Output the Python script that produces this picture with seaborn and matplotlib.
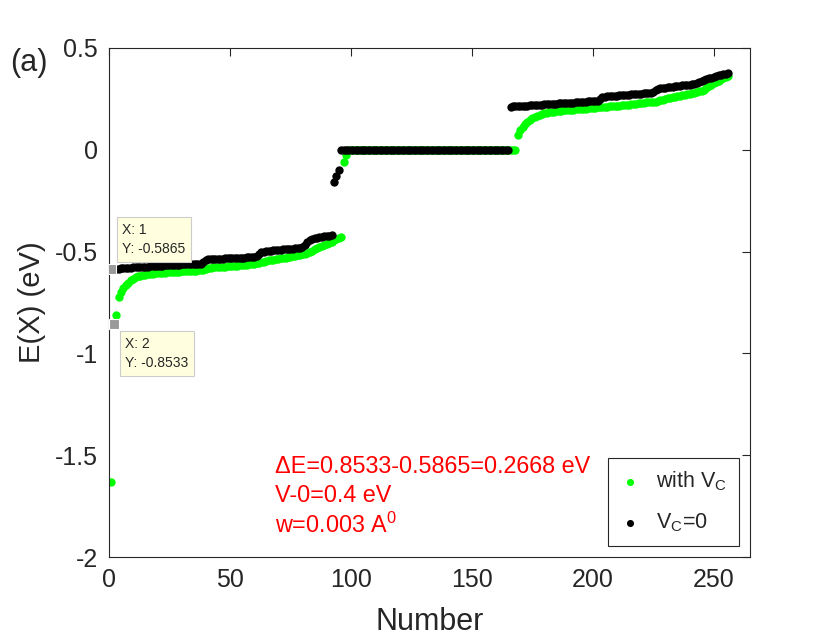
import numpy as np
import pandas as pd
import matplotlib
matplotlib.use("Agg")
import matplotlib.pyplot as plt
import seaborn as sns

# sorted energies, green = with V_C, black = V_C = 0
green_low = [
    -1.630, -0.853, -0.810, -0.722, -0.700, -0.680, -0.665, -0.652, -0.641, -0.633,
    -0.627, -0.622, -0.618, -0.615, -0.613, -0.611, -0.609, -0.608, -0.607, -0.606,
    -0.605, -0.604, -0.603, -0.602, -0.601, -0.600, -0.599, -0.598, -0.598, -0.597,
    -0.596, -0.596, -0.595, -0.594, -0.594, -0.593, -0.592, -0.592, -0.588, -0.583,
    -0.580, -0.579, -0.578, -0.578, -0.577, -0.576, -0.575, -0.574, -0.573, -0.572,
    -0.571, -0.570, -0.569, -0.568, -0.567, -0.566, -0.565, -0.563, -0.561, -0.559,
    -0.557, -0.555, -0.552, -0.549, -0.546, -0.543, -0.541, -0.539, -0.537, -0.535,
    -0.533, -0.531, -0.529, -0.527, -0.525, -0.523, -0.520, -0.518, -0.516, -0.514,
    -0.511, -0.507, -0.501, -0.495, -0.489, -0.483, -0.477, -0.471, -0.466, -0.461,
    -0.456, -0.451, -0.445, -0.439, -0.433, -0.426,
]
green_jump = [-0.059, -0.026]
green_zero = [0.0] * 70
green_high = [
    0.074, 0.098, 0.112, 0.125, 0.137, 0.147, 0.155, 0.162, 0.168, 0.173,
    0.177, 0.180, 0.183, 0.185, 0.187, 0.188, 0.190, 0.191, 0.192, 0.193,
    0.194, 0.195, 0.196, 0.197, 0.198, 0.199, 0.200, 0.201, 0.202, 0.203,
    0.204, 0.205, 0.206, 0.208, 0.209, 0.210, 0.211, 0.212, 0.213, 0.214,
    0.215, 0.216, 0.217, 0.218, 0.219, 0.220, 0.221, 0.223, 0.225, 0.227,
    0.229, 0.231, 0.232, 0.233, 0.234, 0.235, 0.236, 0.237, 0.240, 0.243,
    0.246, 0.249, 0.252, 0.255, 0.258, 0.261, 0.264, 0.266, 0.268, 0.270,
    0.272, 0.275, 0.278, 0.281, 0.284, 0.287, 0.290, 0.296, 0.304, 0.312,
    0.320, 0.327, 0.334, 0.340, 0.346, 0.351, 0.356, 0.360,
]

black_low = [
    -0.5865, -0.585, -0.584, -0.583, -0.582, -0.581, -0.580, -0.580, -0.579, -0.578,
    -0.577, -0.577, -0.576, -0.575, -0.574, -0.574, -0.573, -0.572, -0.571, -0.571,
    -0.570, -0.569, -0.568, -0.568, -0.567, -0.566, -0.565, -0.565, -0.564, -0.563,
    -0.563, -0.562, -0.562, -0.561, -0.561, -0.560, -0.560, -0.559, -0.550, -0.540,
    -0.537, -0.536, -0.536, -0.535, -0.535, -0.534, -0.534, -0.533, -0.533, -0.532,
    -0.532, -0.531, -0.531, -0.530, -0.530, -0.529, -0.528, -0.527, -0.526, -0.525,
    -0.522, -0.512, -0.503, -0.501, -0.499, -0.497, -0.495, -0.494, -0.492, -0.491,
    -0.490, -0.489, -0.488, -0.487, -0.486, -0.485, -0.484, -0.482, -0.480, -0.477,
    -0.468, -0.452, -0.442, -0.438, -0.435, -0.432, -0.429, -0.427, -0.425, -0.423,
    -0.421, -0.419,
]
black_jump = [-0.160, -0.130, -0.098]
black_zero = [0.0] * 70
black_high = [
    0.212, 0.213, 0.214, 0.214, 0.215, 0.216, 0.217, 0.217, 0.218, 0.219,
    0.220, 0.221, 0.221, 0.222, 0.223, 0.224, 0.224, 0.225, 0.226, 0.227,
    0.228, 0.228, 0.229, 0.230, 0.231, 0.232, 0.232, 0.233, 0.234, 0.235,
    0.236, 0.237, 0.238, 0.239, 0.240, 0.241, 0.242, 0.250, 0.258, 0.261,
    0.262, 0.263, 0.264, 0.265, 0.266, 0.267, 0.268, 0.269, 0.270, 0.271,
    0.272, 0.273, 0.274, 0.275, 0.276, 0.277, 0.278, 0.280, 0.281, 0.283,
    0.292, 0.300, 0.302, 0.304, 0.305, 0.307, 0.308, 0.310, 0.311, 0.313,
    0.314, 0.316, 0.317, 0.319, 0.320, 0.322, 0.324, 0.327, 0.331, 0.336,
    0.341, 0.346, 0.351, 0.355, 0.359, 0.363, 0.366, 0.369, 0.372, 0.374,
    0.376,
]

# data tips shown on the figure
tip_x = [1, 2]
tip_y = [-0.5865, -0.8533]

xticks = [0, 50, 100, 150, 200, 250]
yticks = [-2, -1.5, -1, -0.5, 0, 0.5]
ytick_labels = ["-2", "-1.5", "-1", "-0.5", "0", "0.5"]

notes = ["\u0394E=0.8533-0.5865=0.2668 eV", "V-0=0.4 eV", "w=0.003 A$^0$"]

green_y = green_low + green_jump + green_zero + green_high
black_y = black_low + black_jump + black_zero + black_high
green = pd.DataFrame({"Number": np.arange(1, len(green_y) + 1), "E": green_y})
black = pd.DataFrame({"Number": np.arange(1, len(black_y) + 1), "E": black_y})

sns.set_style("white")
plt.rcParams["font.family"] = ["Liberation Sans", "DejaVu Sans"]
plt.rcParams["mathtext.default"] = "regular"
plt.rcParams["axes.unicode_minus"] = False

axis_col = "#262626"
fig = plt.figure(figsize=(8.3, 6.44), dpi=100)
ax = fig.add_axes([0.1313, 0.135, 0.7723, 0.7905])

sns.scatterplot(data=green, x="Number", y="E", color="#00ff00", s=36, linewidth=0,
                label="with V$_C$", ax=ax)
sns.scatterplot(data=black, x="Number", y="E", color="black", s=36, linewidth=0,
                label="V$_C$=0", ax=ax)

ax.set_xlim(0, 265)
ax.set_ylim(-2, 0.5)
ax.set_xticks(xticks)
ax.set_yticks(yticks)
ax.set_yticklabels(ytick_labels)
ax.tick_params(direction="in", top=True, right=True, length=6, width=0.8,
               colors=axis_col, labelsize=18, pad=8)
for sp in ax.spines.values():
    sp.set_color(axis_col)
    sp.set_linewidth(0.8)

ax.set_xlabel("Number", fontsize=22, color=axis_col)
ax.xaxis.set_label_coords(0.5, -0.098)
ax.set_ylabel("E(X) (eV)", fontsize=21, color=axis_col)
ax.yaxis.set_label_coords(-0.099, 0.5)

# data tips
ax.plot(tip_x, tip_y, "s", color="#999999", markersize=7, markeredgecolor="white",
        markeredgewidth=0.8, zorder=5)
ax.text(5.5, -0.44, f"X: {tip_x[0]}\nY: {tip_y[0]}", fontsize=10, va="center", ha="left",
        linespacing=1.5, bbox=dict(boxstyle="square,pad=0.4", fc="#ffffe0", ec="#cccccc", lw=0.8),
        zorder=6)
ax.text(6.8, -1.0, f"X: {tip_x[1]}\nY: {tip_y[1]}", fontsize=10, va="center", ha="left",
        linespacing=1.5, bbox=dict(boxstyle="square,pad=0.4", fc="#ffffe0", ec="#cccccc", lw=0.8),
        zorder=6)

for txt, yb in zip(notes, [0.165, 0.108, 0.047]):
    ax.text(0.259, yb, txt, transform=ax.transAxes, color="red", fontsize=16.8, va="baseline")

leg = ax.legend(loc="lower right", bbox_to_anchor=(0.983, 0.0216), borderaxespad=0,
                fontsize=15.5, frameon=True, fancybox=False, framealpha=1,
                handlelength=1.0, handletextpad=0.7, borderpad=0.55, labelspacing=0.85,
                markerscale=0.85)
leg.get_frame().set_edgecolor(axis_col)
leg.get_frame().set_linewidth(0.8)

fig.text(10 / 830, 1 - 63 / 644, "(a)", fontsize=22, va="center", ha="left")

fig.savefig("out.png", dpi=100)
